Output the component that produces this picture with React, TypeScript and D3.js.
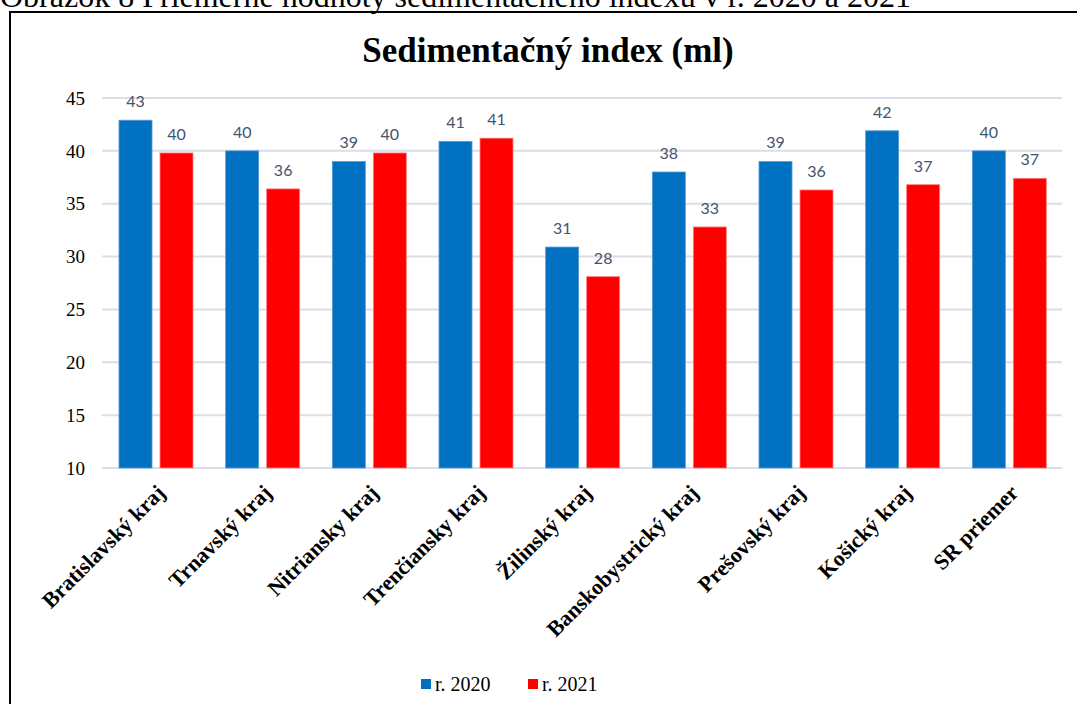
import React from "react";
import * as d3 from "d3";

const categories = [
  "Bratislavský kraj",
  "Trnavský kraj",
  "Nitriansky kraj",
  "Trenčiansky kraj",
  "Žilinský kraj",
  "Banskobystrický kraj",
  "Prešovský kraj",
  "Košický kraj",
  "SR priemer",
];
const seriesNames = ["r. 2020", "r. 2021"];
const values2020 = [42.9, 40.0, 39.0, 40.9, 30.9, 38.0, 39.0, 41.9, 40.0];
const values2021 = [39.8, 36.4, 39.8, 41.2, 28.1, 32.8, 36.3, 36.8, 37.4];
const yTicks = [10, 15, 20, 25, 30, 35, 40, 45];
const colors = ["#0070C0", "#FF0000"];
const outline = ["#5B9BD5", "#FF7C80"];

const W = 1077;
const H = 704;

export default function App() {
  const x0 = d3.scaleBand<string>().domain(categories).range([102, 1062]);
  const x1 = d3.scaleBand<string>().domain(seriesNames).range([17, 91]).paddingInner(0.195);
  const y = d3.scaleLinear().domain([10, 45]).range([468, 98]);
  const series = [values2020, values2021];
  const serif = "'Liberation Serif', 'Times New Roman', serif";

  return (
    <svg width={W} height={H} style={{ position: "absolute", left: 0, top: 0, background: "#fff" }}>
      <rect x={0} y={0} width={W} height={H} fill="#fff" />
      <text x={0} y={7} fontFamily={serif} fontSize={32} fill="#000">
        Obrázok 8 Priemerné hodnoty sedimentačného indexu v r. 2020 a 2021
      </text>
      <rect x={10} y={12} width={W + 20} height={H + 20} fill="none" stroke="#000" strokeWidth={2} />
      <text x={548} y={62} textAnchor="middle" fontFamily={serif} fontWeight="bold" fontSize={35} fill="#000">
        Sedimentačný index (ml)
      </text>
      {yTicks.map((t) => (
        <g key={t}>
          <line x1={102} x2={1062} y1={y(t)} y2={y(t)} stroke="#D9DEE7" strokeWidth={2} />
          <text x={85} y={y(t)} dy="0.35em" textAnchor="end" fontFamily={serif} fontSize={19} fill="#000">
            {t}
          </text>
        </g>
      ))}
      {categories.map((c, i) => (
        <g key={c} transform={`translate(${x0(c)},0)`}>
          {series.map((vals, s) => {
            const bx = x1(seriesNames[s])!;
            const bw = x1.bandwidth();
            const top = y(vals[i]);
            return (
              <g key={s}>
                <rect x={bx} y={top} width={bw} height={y(10) - top} fill={colors[s]} stroke={outline[s]} strokeWidth={0.8} />
                <text
                  x={bx + bw / 2}
                  y={top - 13}
                  textAnchor="middle"
                  fontFamily="Lato, 'Open Sans', sans-serif"
                  fontSize={16}
                  fill="#44546A"
                >
                  {Math.round(vals[i])}
                </text>
              </g>
            );
          })}
        </g>
      ))}
      {categories.map((c) => {
        const cx = x0(c)! + x0.bandwidth() / 2 + 11;
        return (
          <text
            key={c}
            transform={`translate(${cx},494) rotate(-45)`}
            textAnchor="end"
            fontFamily={serif}
            fontWeight="bold"
            fontSize={22}
            fill="#000"
          >
            {c}
          </text>
        );
      })}
      {seriesNames.map((s, i) => {
        const lx = [421, 528][i];
        return (
          <g key={s}>
            <rect x={lx} y={679} width={10} height={10} fill={colors[i]} />
            <text x={lx + 14} y={691} fontFamily={serif} fontSize={20} fill="#000">
              {s}
            </text>
          </g>
        );
      })}
    </svg>
  );
}
